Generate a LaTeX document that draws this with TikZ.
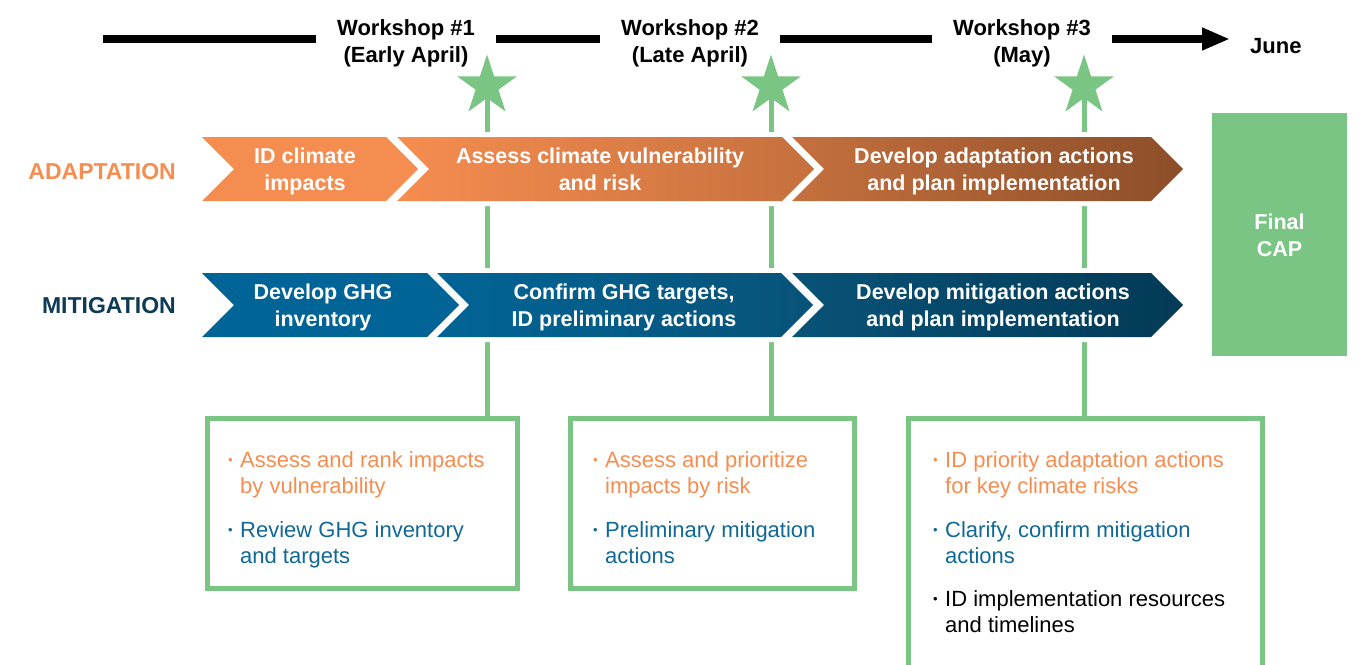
\documentclass[tikz,border=0pt]{standalone}
\usepackage{fontspec}
\setmainfont{Liberation Sans}
\usetikzlibrary{shapes.geometric,arrows.meta,backgrounds}
\definecolor{gr}{RGB}{123,197,132}
\definecolor{org}{RGB}{246,141,80}
\definecolor{orgmid}{RGB}{197,112,62}
\definecolor{brn}{RGB}{140,78,41}
\definecolor{blu}{RGB}{1,100,150}
\definecolor{blumid}{RGB}{8,83,120}
\definecolor{navy}{RGB}{3,58,86}
\definecolor{lblnavy}{RGB}{13,58,85}
\definecolor{txtblue}{RGB}{16,104,150}
\newcommand\mybul{\llap{\raisebox{2.5pt}{\fontsize{13}{13}\selectfont •}\hspace{7.5pt}}}
\begin{document}
\begin{tikzpicture}[x=1pt,y=-1pt,
 tline/.style={line width=8pt, draw=black},
 gline/.style={draw=gr, line width=5pt},
 gbox/.style={draw=gr, line width=5pt, inner sep=0pt},
 halo/.style={draw=white, line width=10pt, line join=round},
 wtext/.style={anchor=base, inner ysep=0pt, inner xsep=21pt, font=\bfseries\fontsize{22}{27}\selectfont},
 ctext/.style={anchor=base, inner sep=0pt, text=white, font=\bfseries\fontsize{21.5}{27}\selectfont},
 rowlabel/.style={anchor=base east, inner sep=0pt, font=\bfseries\fontsize{23}{27}\selectfont},
 btext/.style={anchor=base west, inner sep=0pt, font=\fontsize{22}{26}\selectfont},
 starnode/.style={star, star points=5, star point ratio=2.618, minimum size=63pt, inner sep=0pt, fill=gr},
]
\useasboundingbox (0,0) rectangle (1359,664);

% timeline
\node[wtext] (w1) at (406,35) {\begin{tabular}[t]{@{}c@{}}Workshop \#1\\(Early April)\end{tabular}};
\node[wtext] (w2) at (690,35) {\begin{tabular}[t]{@{}c@{}}Workshop \#2\\(Late April)\end{tabular}};
\node[wtext] (w3) at (1022,35) {\begin{tabular}[t]{@{}c@{}}Workshop \#3\\(May)\end{tabular}};
\node[anchor=base west, inner sep=0pt, font=\bfseries\fontsize{22}{27}\selectfont] (june) at (1250,53) {June};
\coordinate (t0) at (103,39);
\coordinate (tend) at (1230,39);
\draw[tline] (t0) -- (t0 -| w1.west);
\draw[tline] (w1.east |- t0) -- (w2.west |- t0);
\draw[tline] (w2.east |- t0) -- (w3.west |- t0);
\draw[tline, -{Triangle[length=28pt,width=21pt]}] (w3.east |- t0) -- (tend);

% stars
\node[starnode] (s1) at (487,86) {};
\node[starnode] (s2) at (771,86) {};
\node[starnode] (s3) at (1084,86) {};

% boxes
\node[gbox, minimum width=310pt, minimum height=170pt] (box1) at (362,503) {};
\node[gbox, minimum width=284pt, minimum height=170pt] (box2) at (712.5,503) {};
\node[gbox, minimum width=354pt, minimum height=320pt] (box3) at (1085.5,578) {};

% final CAP
\node[fill=gr, minimum width=135pt, minimum height=243pt, inner sep=0pt] (cap) at (1279.5,234.5) {};
\node[ctext] (captxt) at (1279.5,229.5) {\begin{tabular}[t]{@{}c@{}}Final\\CAP\end{tabular}};

\begin{pgfonlayer}{background}
\draw[gline] (s1) -- (s1 |- box1.north);
\draw[gline] (s2) -- (s2 |- box2.north);
\draw[gline] (s3) -- (s3 |- box3.north);
% halos
\path[halo] (202,137) -- (386,137) -- (418,169) -- (386,201) -- (202,201) -- (234,169) -- cycle;
\path[halo] (397,137) -- (782,137) -- (814,169) -- (782,201) -- (397,201) -- (429,169) -- cycle;
\path[halo] (792,137) -- (1151,137) -- (1183,169) -- (1151,201) -- (792,201) -- (824,169) -- cycle;
\path[halo] (202,273) -- (427,273) -- (459,305) -- (427,337) -- (202,337) -- (234,305) -- cycle;
\path[halo] (437,273) -- (781,273) -- (813,305) -- (781,337) -- (437,337) -- (469,305) -- cycle;
\path[halo] (792,273) -- (1151,273) -- (1183,305) -- (1151,337) -- (792,337) -- (824,305) -- cycle;
\end{pgfonlayer}

% adaptation chevrons
\fill[org] (202,137) -- (386,137) -- (418,169) -- (386,201) -- (202,201) -- (234,169) -- cycle;
\shade[left color=org, right color=orgmid] (397,137) -- (782,137) -- (814,169) -- (782,201) -- (397,201) -- (429,169) -- cycle;
\shade[left color=orgmid, right color=brn] (792,137) -- (1151,137) -- (1183,169) -- (1151,201) -- (792,201) -- (824,169) -- cycle;
% mitigation chevrons
\fill[blu] (202,273) -- (427,273) -- (459,305) -- (427,337) -- (202,337) -- (234,305) -- cycle;
\shade[left color=blu, right color=blumid] (437,273) -- (781,273) -- (813,305) -- (781,337) -- (437,337) -- (469,305) -- cycle;
\shade[left color=blumid, right color=navy] (792,273) -- (1151,273) -- (1183,305) -- (1151,337) -- (792,337) -- (824,305) -- cycle;

% row labels
\node[rowlabel, text=org] (lada) at (176,179) {ADAPTATION};
\node[rowlabel, text=lblnavy] (lmit) at (176,313) {MITIGATION};

% chevron texts
\node[ctext] (ta1) at (305,163) {\begin{tabular}[t]{@{}c@{}}ID climate\\impacts\end{tabular}};
\node[ctext] (ta2) at (600,163) {\begin{tabular}[t]{@{}c@{}}Assess climate vulnerability\\and risk\end{tabular}};
\node[ctext] (ta3) at (994,163) {\begin{tabular}[t]{@{}c@{}}Develop adaptation actions\\and plan implementation\end{tabular}};
\node[ctext] (tm1) at (323,299) {\begin{tabular}[t]{@{}c@{}}Develop GHG\\inventory\end{tabular}};
\node[ctext] (tm2) at (624,299) {\begin{tabular}[t]{@{}c@{}}Confirm GHG targets,\\ID preliminary actions\end{tabular}};
\node[ctext] (tm3) at (993,299) {\begin{tabular}[t]{@{}c@{}}Develop mitigation actions\\and plan implementation\end{tabular}};

% bullet texts
\node[btext, text=org] (b1a) at (240,467) {\mybul\begin{tabular}[t]{@{}l@{}}Assess and rank impacts\\by vulnerability\end{tabular}};
\node[btext, text=txtblue] (b1b) at (240,537) {\mybul\begin{tabular}[t]{@{}l@{}}Review GHG inventory\\and targets\end{tabular}};
\node[btext, text=org] (b2a) at (605,467) {\mybul\begin{tabular}[t]{@{}l@{}}Assess and prioritize\\impacts by risk\end{tabular}};
\node[btext, text=txtblue] (b2b) at (605,537) {\mybul\begin{tabular}[t]{@{}l@{}}Preliminary mitigation\\actions\end{tabular}};
\node[btext, text=org] (b3a) at (945,467) {\mybul\begin{tabular}[t]{@{}l@{}}ID priority adaptation actions\\for key climate risks\end{tabular}};
\node[btext, text=txtblue] (b3b) at (945,537) {\mybul\begin{tabular}[t]{@{}l@{}}Clarify, confirm mitigation\\actions\end{tabular}};
\node[btext, text=black] (b3c) at (945,606) {\mybul\begin{tabular}[t]{@{}l@{}}ID implementation resources\\and timelines\end{tabular}};
\end{tikzpicture}
\end{document}
